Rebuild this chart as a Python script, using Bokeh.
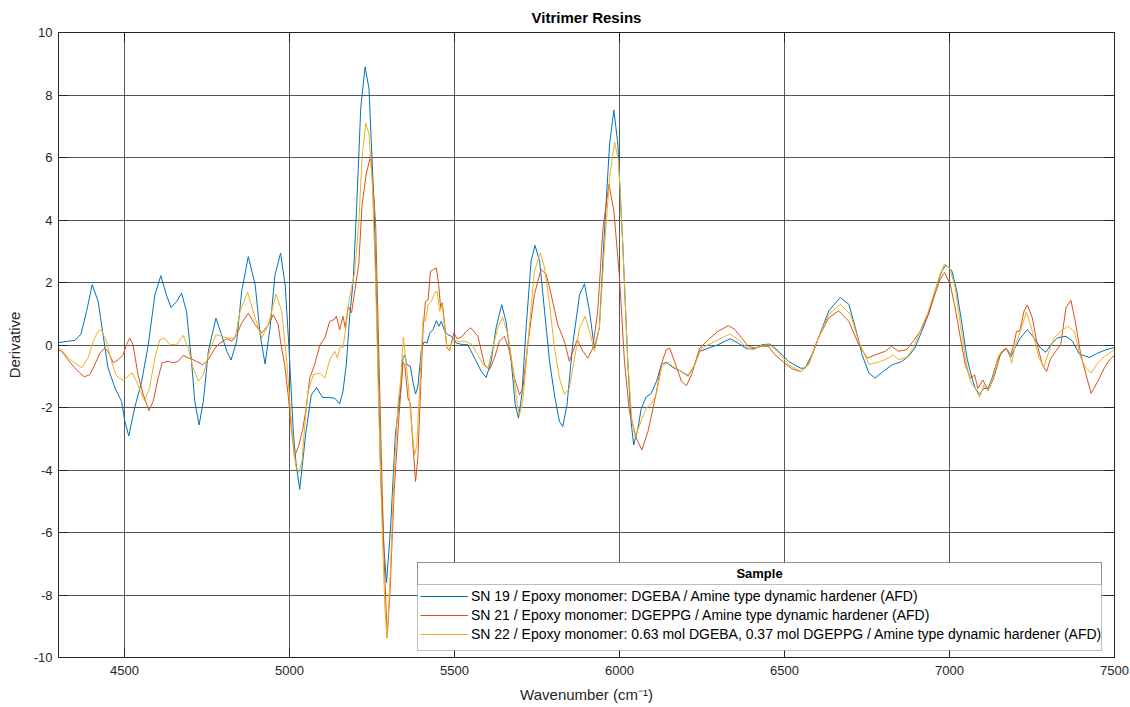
from bokeh.plotting import figure
from bokeh.models import (Range1d, FixedTicker, Legend, LegendItem, BoxAnnotation, Label,
                          LinearAxis, CustomLabelingPolicy)
from bokeh.embed import file_html
from bokeh.resources import INLINE

# ---------------- data ----------------
wn_sn19 = [4300, 4330, 4350, 4368, 4385, 4402, 4420, 4435, 4450, 4471, 4491, 4501, 4513, 4531,
           4552, 4572, 4592, 4610, 4627, 4641, 4658, 4673, 4688, 4703, 4713, 4726, 4739, 4754,
           4777, 4794, 4810, 4823, 4840, 4855, 4875, 4896, 4911, 4926, 4941, 4956, 4973, 4987,
           4998, 5012, 5020, 5031, 5049, 5066, 5082, 5100, 5117, 5137, 5152, 5162, 5172, 5183,
           5193, 5203, 5216, 5229, 5241, 5256, 5268, 5276, 5286, 5294, 5306, 5321, 5337, 5344,
           5349, 5356, 5366, 5374, 5382, 5389, 5400, 5408, 5417, 5425, 5435, 5445, 5453, 5460,
           5470, 5480, 5490, 5506, 5526, 5540, 5561, 5581, 5596, 5611,
           5626, 5643, 5656, 5672, 5684, 5694, 5704, 5717, 5732, 5744, 5758, 5773, 5788, 5803,
           5818, 5828, 5841, 5858, 5879, 5894, 5909, 5924, 5939, 5955, 5970, 5983, 5995, 6010,
           6025, 6035, 6043, 6056, 6066, 6081, 6096, 6112, 6127, 6142, 6162, 6188, 6208, 6228,
           6243, 6269, 6299, 6335, 6360, 6385, 6411, 6431, 6456, 6482, 6513, 6548, 6563, 6583,
           6603, 6634, 6669, 6695, 6715, 6735, 6756, 6774, 6801, 6827, 6855, 6875, 6895, 6916,
           6936, 6956, 6977, 6989, 7007, 7022, 7038, 7053, 7068, 7078, 7091, 7104, 7117, 7129,
           7144, 7160, 7173, 7185, 7198, 7215, 7236, 7256, 7276, 7292, 7307, 7327, 7353, 7373,
           7393, 7424, 7449, 7474, 7500]
d_sn19 = [0.08, 0.12, 0.15, 0.35, 1.07, 1.93, 1.4, 0.33, -0.73, -1.37, -1.8, -2.44, -2.91, -2.0,
          -1.16, 0.0, 1.6, 2.22, 1.6, 1.2, 1.39, 1.66, 1.07, -0.52, -1.8, -2.56, -1.8, -0.2,
          0.86, 0.33, -0.2, -0.48, 0.12, 1.71, 2.83, 1.93, 0.33, -0.61, 0.54, 2.24, 2.94, 1.9,
          0.0, -2.86, -3.8, -4.62, -2.85, -1.6, -1.36, -1.68, -1.68, -1.7, -1.88, -1.49, -0.63, 0.98,
          2.05, 4.3, 7.6, 8.9, 8.2, 4.5, -0.4, -4.1, -6.5, -7.6, -5.9, -2.85, -1.4, -0.4,
          -0.33, -0.63, -0.68, -1.17, -1.57, -1.33, -0.1, 0.1, 0.06, 0.39, 0.49, 0.78, 0.6, 0.76,
          0.44, 0.33, 0.28, 0.06, 0.01, 0.01, -0.42, -0.84, -1.04, -0.52,
          0.55, 1.29, 0.76, -0.52, -1.91, -2.34, -1.6, 0.55, 2.68, 3.19, 2.68, 1.08, -0.52, -1.6,
          -2.45, -2.61, -1.91, 0.0, 1.61, 1.96, 1.08, -0.1, 0.55, 3.75, 6.43, 7.52, 6.43, 3.2,
          -0.52, -2.45, -3.2, -2.66, -2.03, -1.66, -1.55, -1.17, -0.63, -0.55, -0.72, -0.85, -0.98, -0.63,
          -0.2, -0.1, 0.01, 0.2, 0.06, -0.12, -0.12, 0.01, 0.03, -0.2, -0.53, -0.74, -0.74, -0.31,
          0.23, 1.09, 1.52, 1.3, 0.55, -0.31, -0.9, -1.06, -0.83, -0.63, -0.53, -0.37, -0.1, 0.44,
          0.98, 1.73, 2.38, 2.56, 2.38, 1.73, 0.66, -0.42, -1.06, -1.39, -1.58, -1.39, -1.39, -1.06,
          -0.53, -0.2, -0.12, -0.4, -0.1, 0.23, 0.49, 0.23, -0.1, -0.23, 0.01, 0.23, 0.28, 0.12,
          -0.29, -0.4, -0.26, -0.15, -0.08]

wn_sn21 = [4300, 4309, 4329, 4349, 4364, 4378, 4395, 4410, 4425, 4440, 4450, 4466, 4481, 4496,
           4506, 4516, 4526, 4541, 4557, 4574, 4587, 4602, 4614, 4632, 4648, 4663, 4678, 4693,
           4714, 4737, 4754, 4774, 4789, 4810, 4825, 4840, 4855, 4875, 4896, 4916, 4936, 4951,
           4966, 4973, 4985, 4997, 5005, 5015, 5028, 5040, 5051, 5061, 5076, 5092, 5107, 5122,
           5135, 5142, 5152, 5162, 5169, 5178, 5188, 5198, 5210, 5220, 5233, 5246, 5261, 5271,
           5281, 5288, 5296, 5305, 5317, 5332, 5344, 5349, 5359, 5366, 5374, 5382, 5389, 5397,
           5405, 5412, 5420, 5427, 5437, 5445, 5452, 5458, 5463, 5470, 5477, 5485, 5498, 5508,
           5521, 5536, 5549, 5571, 5591, 5606, 5621, 5636, 5651,
           5667, 5682, 5697, 5707, 5722, 5742, 5762, 5778, 5793, 5813, 5833, 5848, 5859, 5872,
           5889, 5904, 5919, 5934, 5950, 5968, 5983, 6000, 6015, 6030, 6051, 6068, 6086, 6096,
           6112, 6127, 6142, 6152, 6167, 6188, 6203, 6218, 6243, 6269, 6299, 6330, 6350, 6370,
           6390, 6411, 6431, 6451, 6471, 6497, 6523, 6548, 6573, 6603, 6634, 6664, 6695, 6725,
           6751, 6776, 6806, 6824, 6845, 6870, 6890, 6911, 6936, 6956, 6972, 6985, 7002, 7017,
           7033, 7048, 7063, 7076, 7086, 7101, 7117, 7134, 7154, 7172, 7185, 7195, 7203, 7213,
           7226, 7236, 7251, 7266, 7281, 7294, 7307, 7322, 7337, 7353, 7368, 7381, 7398, 7414,
           7429, 7449, 7469, 7485, 7500]
d_sn21 = [-0.16, -0.2, -0.47, -0.73, -0.89, -1.02, -0.95, -0.63, -0.26, -0.1, -0.2, -0.57, -0.47, -0.31,
          0.01, 0.22, 0.0, -0.95, -1.59, -2.1, -1.8, -1.05, -0.57, -0.52, -0.57, -0.52, -0.33, -0.41,
          -0.5, -0.63, -0.47, -0.1, 0.06, 0.2, 0.12, 0.33, 0.7, 1.02, 0.65, 0.38, 0.65, 0.97,
          0.65, 0.1, -0.6, -1.7, -2.6, -3.57, -3.22, -2.7, -2.0, -1.06, -0.63, 0.0, 0.22, 0.76,
          0.81, 0.92, 0.49, 0.92, 0.55, 1.24, 1.03, 1.73, 2.6, 4.5, 5.5, 6.06, 3.9, -0.4,
          -4.7, -7.2, -9.37, -7.8, -4.7, -2.24, -0.55, -0.6, -1.7, -1.86, -3.2, -4.37, -3.6, -1.49,
          0.55, 1.4, 1.45, 2.36, 2.42, 2.47, 1.94, 1.19, 1.35, 0.7, -0.1, -0.18, 0.39, 0.2,
          0.25, 0.44, 0.55, 0.28, -0.63, -0.79, -0.42, 0.12, 0.28,
          -0.2, -1.06, -1.59, -1.38, 0.01, 1.61, 2.42, 2.26, 1.61, 0.65, 0.12, -0.52, -0.2, 0.17,
          -0.2, -0.42, -0.1, 1.08, 3.75, 5.14, 4.29, 2.15, -0.52, -2.13, -2.98, -3.36, -2.77, -2.3,
          -1.5, -0.6, -0.15, -0.1, -0.53, -1.17, -1.3, -0.96, -0.1, 0.17, 0.44, 0.62, 0.49, 0.23,
          -0.04, -0.1, -0.04, -0.04, -0.31, -0.55, -0.76, -0.85, -0.63, 0.23, 0.87, 1.09, 0.76, 0.01,
          -0.42, -0.31, -0.2, -0.04, -0.2, -0.15, 0.12, 0.44, 0.98, 1.62, 2.11, 2.32, 1.95, 1.19,
          0.23, -0.63, -1.06, -0.96, -1.39, -1.12, -1.44, -1.06, -0.31, -0.1, -0.31, 0.01, 0.44, 0.44,
          1.09, 1.28, 0.87, 0.01, -0.63, -0.85, -0.42, -0.2, 0.01, 1.19, 1.43, 0.76, -0.31, -0.96,
          -1.55, -1.17, -0.74, -0.47, -0.33]

wn_sn22 = [4300, 4309, 4329, 4349, 4371, 4390, 4405, 4420, 4430, 4445, 4460, 4476, 4496, 4511,
           4523, 4536, 4549, 4561, 4576, 4592, 4607, 4622, 4637, 4658, 4678, 4693, 4708, 4724,
           4739, 4754, 4777, 4794, 4815, 4835, 4850, 4873, 4896, 4916, 4936, 4959, 4976, 4990,
           5005, 5018, 5028, 5038, 5046, 5056, 5072, 5092, 5107, 5122, 5137, 5145, 5155, 5162,
           5172, 5180, 5188, 5197, 5210, 5220, 5231, 5241, 5251, 5261, 5271, 5281, 5289, 5296, 5306,
           5317, 5329, 5337, 5345, 5352, 5359, 5369, 5379, 5386, 5394, 5405, 5412, 5420, 5430,
           5440, 5448, 5455, 5463, 5470, 5477, 5485, 5496, 5511, 5531, 5551, 5571, 5586, 5601,
           5616, 5631, 5646,
           5662, 5677, 5690, 5697, 5707, 5722, 5742, 5760, 5773, 5788, 5803, 5818, 5833, 5848,
           5864, 5879, 5896, 5912, 5924, 5939, 5955, 5970, 5985, 5997, 6010, 6025, 6037, 6047,
           6061, 6081, 6096, 6111, 6127, 6145, 6162, 6188, 6208, 6228, 6248, 6279, 6310, 6335,
           6360, 6385, 6406, 6431, 6456, 6482, 6513, 6548, 6573, 6603, 6634, 6669, 6700, 6725,
           6756, 6786, 6814, 6829, 6845, 6870, 6890, 6911, 6936, 6956, 6972, 6985, 7002, 7017,
           7033, 7048, 7063, 7078, 7091, 7104, 7117, 7134, 7149, 7169, 7180, 7188, 7200, 7215,
           7233, 7251, 7271, 7286, 7302, 7317, 7337, 7358, 7378, 7398, 7414, 7429, 7449, 7469,
           7500]
d_sn22 = [-0.1, -0.15, -0.41, -0.57, -0.73, -0.41, 0.12, 0.44, 0.49, 0.12, -0.52, -1.0, -1.13, -1.0,
          -0.89, -1.16, -1.49, -1.78, -1.37, -0.41, 0.17, 0.22, 0.01, 0.01, 0.31, -0.1, -0.73, -1.16,
          -0.95, -0.31, 0.33, 0.28, 0.22, 0.22, 1.07, 1.69, 0.86, 0.22, 0.65, 1.63, 1.1, -0.3,
          -2.4, -3.84, -4.08, -3.7, -2.6, -1.49, -0.95, -0.9, -1.06, -0.47, -0.2, -0.42, 0.0, -0.1,
          0.65, 1.4, 1.83, 2.3, 3.91, 6.0, 7.1, 6.74, 5.14, 2.07, -2.24, -5.93, -8.39, -9.37, -7.16,
          -4.08, -1.87, -1.1, 0.25, -0.42, -1.17, -2.45, -3.52, -3.2, -1.49, 0.87, 0.76, 1.29, 1.4,
          1.67, 1.72, 1.08, 1.29, 0.55, -0.1, -0.15, 0.17, 0.12, 0.12, 0.03, -0.31, -0.63, -0.74,
          -0.1, 0.55, 0.89,
          0.33, -0.74, -1.91, -2.23, -1.81, 0.01, 2.36, 2.95, 2.47, 1.29, -0.1, -1.06, -1.59, -1.38,
          -0.42, 0.55, 0.92, 0.33, -0.2, 0.55, 3.22, 5.36, 6.5, 5.89, 3.22, -0.52, -2.34, -2.93,
          -2.56, -2.02, -1.89, -1.6, -0.74, -0.55, -0.69, -0.85, -1.01, -0.63, -0.1, 0.06, 0.23, 0.35,
          0.17, -0.08, -0.15, -0.01, 0.01, -0.26, -0.63, -0.85, -0.63, 0.23, 0.98, 1.3, 0.98, 0.12,
          -0.62, -0.55, -0.42, -0.31, -0.47, -0.4, -0.1, 0.44, 1.09, 1.73, 2.27, 2.59, 2.43, 1.84,
          0.66, -0.42, -1.17, -1.39, -1.68, -1.28, -1.47, -0.96, -0.31, -0.1, -0.2, -0.58, 0.01, 0.44,
          1.06, 0.44, -0.42, -0.69, -0.2, 0.23, 0.44, 0.6, 0.44, -0.42, -0.74, -0.9, -0.58, -0.37,
          -0.15]

series_labels = [
    "SN 19 / Epoxy monomer: DGEBA / Amine type dynamic hardener (AFD)",
    "SN 21 / Epoxy monomer: DGEPPG / Amine type dynamic hardener (AFD)",
    "SN 22 / Epoxy monomer: 0.63 mol DGEBA, 0.37 mol DGEPPG / Amine type dynamic hardener (AFD)",
]
series_colors = ["#0072BD", "#D95319", "#EDB120"]
x_ticks = [4500, 5000, 5500, 6000, 6500, 7000, 7500]
y_ticks = [-10, -8, -6, -4, -2, 0, 2, 4, 6, 8, 10]

FONT = "Liberation Sans"
AX = "#262626"

p = figure(width=1130, height=707, output_backend="svg", toolbar_location=None,
           x_range=Range1d(4300, 7500), y_range=Range1d(-10, 10),
           min_border_left=58, min_border_right=16, min_border_top=32, min_border_bottom=50,
           title="Vitrimer Resins")
p.background_fill_color = "white"
p.border_fill_color = "white"
p.outline_line_color = AX
p.outline_line_width = 1

p.title.align = "center"
p.title.text_font = FONT
p.title.text_font_size = "15px"
p.title.text_font_style = "bold"
p.title.text_color = "#000000"
p.title.standoff = 5

for ax in p.xaxis:
    ax.ticker = FixedTicker(ticks=x_ticks)
    ax.axis_label = "Wavenumber (cm⁻¹)"
for ax in p.yaxis:
    ax.ticker = FixedTicker(ticks=y_ticks)
    ax.axis_label = "Derivative"
    ax.major_label_overrides = {t: "-%d" % abs(t) for t in y_ticks if t < 0}
for ax in list(p.xaxis) + list(p.yaxis):
    ax.axis_line_color = AX
    ax.major_tick_line_color = AX
    ax.major_tick_in = 10
    ax.major_tick_out = 0
    ax.minor_tick_line_color = None
    ax.major_label_text_font = FONT
    ax.major_label_text_font_size = "13px"
    ax.major_label_text_color = AX
    ax.axis_label_text_font = FONT
    ax.axis_label_text_font_size = "15px"
    ax.axis_label_text_font_style = "normal"
    ax.axis_label_text_color = AX
p.xaxis.major_label_standoff = 8
p.xaxis.axis_label_standoff = 8
p.yaxis.major_label_standoff = 6
p.yaxis.axis_label_standoff = 8

# mirrored tick marks on the top and right edges (MATLAB box), labels suppressed
hide_all = CustomLabelingPolicy(code="return new Set()")
for side, tk in (("above", x_ticks), ("right", y_ticks)):
    a = LinearAxis(ticker=FixedTicker(ticks=tk), axis_line_color=AX,
                   major_tick_line_color=AX, major_tick_in=10, major_tick_out=0,
                   minor_tick_line_color=None, major_label_standoff=0,
                   major_label_text_font_size="1px", major_label_policy=hide_all)
    p.add_layout(a, side)

p.grid.grid_line_color = "#3a3a3a"
p.grid.grid_line_alpha = 0.85
p.grid.grid_line_width = 1

renderers = []
for wn, d, c in ((wn_sn19, d_sn19, series_colors[0]),
                 (wn_sn21, d_sn21, series_colors[1]),
                 (wn_sn22, d_sn22, series_colors[2])):
    r = p.line(wn, d, line_color=c, line_width=1)
    renderers.append(r)

# legend frame with centred "Sample" header
p.add_layout(BoxAnnotation(left=359, right=1043, bottom=7, top=95,
                           left_units="screen", right_units="screen",
                           bottom_units="screen", top_units="screen",
                           fill_color="white", fill_alpha=1.0,
                           line_color=AX, line_width=1))
p.add_layout(BoxAnnotation(left=359, right=1043, bottom=73, top=95,
                           left_units="screen", right_units="screen",
                           bottom_units="screen", top_units="screen",
                           fill_alpha=0.0, line_color=AX, line_width=1))
p.add_layout(Label(x=701, y=84, x_units="screen", y_units="screen", text="Sample",
                   text_align="center", text_baseline="middle", text_font=FONT,
                   text_font_size="13px", text_font_style="bold", text_color="#000000"))

legend = Legend(items=[LegendItem(label=l, renderers=[r]) for l, r in zip(series_labels, renderers)],
                location=(358, 10), orientation="vertical",
                border_line_alpha=0, background_fill_alpha=0,
                label_text_font=FONT, label_text_font_size="14px", label_text_color="#000000",
                glyph_width=48, glyph_height=18, label_height=18, label_standoff=3,
                spacing=1, padding=4, margin=0)
p.add_layout(legend, "center")

open("out.html", "w").write(file_html(p, INLINE))
